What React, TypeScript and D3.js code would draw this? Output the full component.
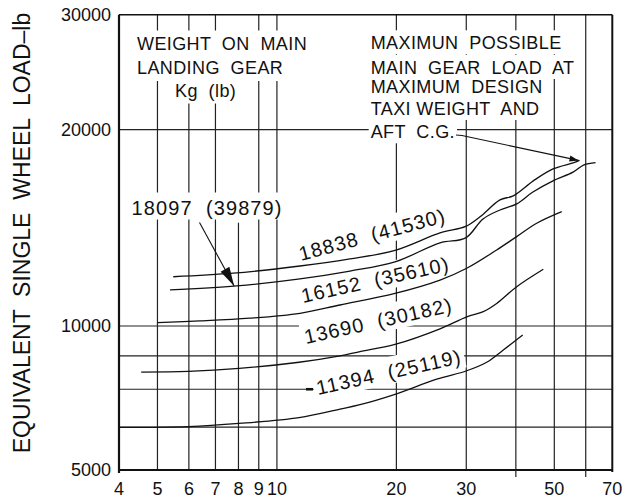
import React, { useEffect, useRef } from 'react';
import * as d3 from 'd3';

// ---------- axis data ----------
const xTickValues = [4, 5, 6, 7, 8, 9, 10, 20, 30, 50, 70];
const xTickLabels = ['4', '5', '6', '7', '8', '9', '10', '20', '30', '50', '70'];
const xGridValues = [5, 6, 7, 8, 9, 10, 20, 30, 40, 50, 60];
const xUnlabeledTicks = [40, 60];
const yTickValues = [5000, 10000, 20000, 30000];
const yTickLabels = ['5000', '10000', '20000', '30000'];
const yGridValues = [7000, 8000, 9000, 10000, 20000];
const yAxisTitle = 'EQUIVALENT  SINGLE  WHEEL  LOAD–lb';

// ---------- notes ----------
const noteWeight = ['WEIGHT  ON  MAIN', 'LANDING  GEAR', 'Kg  (lb)'];
const noteMax = ['MAXIMUN  POSSIBLE', 'MAIN  GEAR  LOAD  AT', 'MAXIMUM  DESIGN', 'TAXI WEIGHT  AND', 'AFT  C.G.'];

// ---------- series ----------
const seriesNames = ['18838  (41530)', '18097  (39879)', '16152  (35610)', '13690  (30182)', '11394  (25119)'];

const s18838x = [5.48, 7.76, 11.43, 15.28, 19.84, 25.76, 29.9, 32.49, 36.48, 39.41, 44.26, 49.62, 55.74, 57.88];
const s18838y = [11900, 12050, 12360, 12670, 13060, 13890, 14210, 14700, 15610, 15830, 16690, 17410, 17780, 17940];

const s18097x = [5.38, 7.92, 11.43, 15.28, 19.84, 25.76, 29.9, 33.06, 36.48, 40.2, 44.06, 49.62, 55.74, 59.41, 63.52];
const s18097y = [11360, 11520, 11810, 12140, 12540, 13410, 13650, 14590, 15060, 15390, 16030, 16690, 17210, 17660, 17800];

const s16152x = [5.0, 6.4, 8.55, 11.43, 14.42, 19.84, 25.76, 30.08, 35.79, 40.2, 45.14, 52.19];
const s16152y = [10120, 10180, 10280, 10460, 10770, 11220, 11760, 12260, 13080, 13710, 14370, 14970];

const s13690x = [4.55, 5.98, 8.03, 11.37, 14.42, 16.1, 19.84, 25.76, 30.08, 33.12, 35.79, 40.2, 46.91];
const s13690y = [8500, 8520, 8610, 8800, 9000, 9130, 9370, 9900, 10330, 10520, 10830, 11490, 12220];

const s11394x = [4.0, 5.98, 8.03, 11.37, 14.42, 16.1, 19.84, 25.27, 30.08, 33.77, 37.19, 41.62];
const s11394y = [6980, 7010, 7090, 7240, 7460, 7570, 7860, 8290, 8540, 8800, 9190, 9690];

const seriesX = [s18838x, s18097x, s16152x, s13690x, s11394x];
const seriesY = [s18838y, s18097y, s16152y, s13690y, s11394y];

// arrow from the 18097 label points at this value on its curve
const arrowTarget18097 = { x: 7.8, y: 11520 };

const FONT = '"Liberation Sans", Arial, Helvetica, sans-serif';
const INK = '#111';

export default function App() {
  const ref = useRef<SVGSVGElement | null>(null);

  useEffect(() => {
    const svg = d3.select(ref.current);
    svg.selectAll('*').remove();

    const left = 119, right = 612.3, top = 14.7, bottom = 470;
    const pxPerDecade = 652.5;
    const yBreak = 7000;
    const yBreakPx = top + pxPerDecade * Math.log10(30000 / yBreak);

    const x = d3.scaleLog().domain([4, 70]).range([left, right]);
    const y = d3.scaleLog().domain([5000, yBreak, 30000]).range([bottom, yBreakPx, top]);

    const gGrid = svg.append('g');
    const gMask = svg.append('g');
    const gCurves = svg.append('g');
    const gText = svg.append('g');
    const gAnnot = svg.append('g');

    // ---------- gridlines ----------
    const gridTopLimit: Record<number, number> = { 8: 14400 };
    gGrid.selectAll('line.v').data(xGridValues).join('line')
      .attr('x1', d => x(d)).attr('x2', d => x(d))
      .attr('y1', d => (gridTopLimit[d] ? y(gridTopLimit[d]) : top))
      .attr('y2', bottom)
      .attr('stroke', '#222').attr('stroke-width', 1.2);
    gGrid.selectAll('line.h').data(yGridValues).join('line')
      .attr('x1', left).attr('x2', right)
      .attr('y1', d => y(d)).attr('y2', d => y(d))
      .attr('stroke', '#222').attr('stroke-width', 1.2);

    // frame
    gAnnot.append('line').attr('x1', left).attr('x2', right).attr('y1', top).attr('y2', top)
      .attr('stroke', INK).attr('stroke-width', 1.5);
    gAnnot.append('line').attr('x1', left).attr('x2', left).attr('y1', top).attr('y2', bottom + 3)
      .attr('stroke', INK).attr('stroke-width', 2.2);
    gAnnot.append('line').attr('x1', right).attr('x2', right).attr('y1', top).attr('y2', bottom + 2)
      .attr('stroke', INK).attr('stroke-width', 2);
    gAnnot.append('line').attr('x1', left).attr('x2', right).attr('y1', bottom).attr('y2', bottom)
      .attr('stroke', INK).attr('stroke-width', 2.2);
    gAnnot.selectAll('line.mt').data(xUnlabeledTicks).join('line')
      .attr('x1', d => x(d)).attr('x2', d => x(d)).attr('y1', bottom).attr('y2', bottom + 7)
      .attr('stroke', '#222').attr('stroke-width', 1.2);

    // ---------- text helper ----------
    type TOpts = { size: number; rotate?: number; anchor?: string; ls?: number; mask?: boolean; padX?: number; padT?: number; padB?: number };
    const addText = (str: string, px: number, py: number, o: TOpts) => {
      const tr = `translate(${px},${py})` + (o.rotate ? ` rotate(${o.rotate})` : '');
      const t = gText.append('text')
        .attr('transform', tr)
        .attr('font-family', FONT)
        .attr('font-size', o.size)
        .attr('letter-spacing', o.ls ?? 0)
        .attr('text-anchor', o.anchor ?? 'start')
        .attr('xml:space', 'preserve')
        .style('white-space', 'pre')
        .attr('fill', INK)
        .text(str);
      const node = t.node() as SVGTextElement;
      const b = node.getBBox();
      if (o.mask) {
        const padX = o.padX ?? 3, padT = o.padT ?? 2, padB = o.padB ?? 2;
        gMask.append('rect').attr('transform', tr)
          .attr('x', b.x - padX).attr('y', b.y - padT)
          .attr('width', b.width + 2 * padX).attr('height', b.height + padT + padB)
          .attr('fill', 'white');
      }
      return { t, b };
    };

    // ---------- curves ----------
    const line = d3.line<[number, number]>()
      .x(d => x(d[0])).y(d => y(d[1]))
      .curve(d3.curveCatmullRom.alpha(0.5));
    seriesX.forEach((xs, i) => {
      const pts = xs.map((v, j) => [v, seriesY[i][j]] as [number, number]);
      gCurves.append('path').attr('d', line(pts) as string)
        .attr('fill', 'none').attr('stroke', INK).attr('stroke-width', 1.3);
    });

    // ---------- tick labels ----------
    xTickValues.forEach((v, i) => {
      addText(xTickLabels[i], x(v), 495, { size: 18, anchor: 'middle' });
    });
    yTickValues.forEach((v, i) => {
      const { t } = addText(yTickLabels[i], 111, y(v), { size: 18, anchor: 'end' });
      t.attr('dy', '0.35em');
    });

    // axis title
    addText(yAxisTitle, 30, 233, { size: 23, rotate: -90, anchor: 'middle' });

    // ---------- notes ----------
    const noteSize = 18, noteLs = 0.4;
    const wBase = [49.5, 74, 96.5];
    const wX = [137, 137, 175];
    noteWeight.forEach((s, i) => addText(s, wX[i], wBase[i], { size: noteSize, ls: noteLs, mask: true, padT: 3, padB: 3 }));
    const mBase = [49.3, 74, 93.3, 115, 138.3];
    let aftBox: DOMRect | null = null;
    noteMax.forEach((s, i) => {
      const r = addText(s, 370.7, mBase[i], { size: noteSize, ls: noteLs, mask: true, padT: 3, padB: 1, padX: 2 });
      if (i === noteMax.length - 1) aftBox = r.b;
    });

    // arrowhead helper
    const head = (x1: number, y1: number, x2: number, y2: number, len: number, half: number) => {
      const a = Math.atan2(y2 - y1, x2 - x1);
      const bx = x2 - len * Math.cos(a), by = y2 - len * Math.sin(a);
      const px = -Math.sin(a) * half, py = Math.cos(a) * half;
      return `M${x2},${y2}L${bx + px},${by + py}L${bx - px},${by - py}Z`;
    };

    // AFT C.G. arrow → end of the 18838 curve
    {
      const ax = s18838x[s18838x.length - 1], ay = s18838y[s18838y.length - 1];
      const tx = x(ax) - 1, ty = y(ay);
      const b = aftBox as unknown as DOMRect;
      const sx = 370.7 + b.x + b.width + 1, sy = 138.3 - 3.3;
      gAnnot.append('path')
        .attr('d', `M${sx},${sy}L${sx + 6},${sy + 0.5}L${tx},${ty}`)
        .attr('fill', 'none').attr('stroke', INK).attr('stroke-width', 1.1);
      gAnnot.append('path').attr('d', head(sx + 6, sy + 0.5, tx, ty, 9, 3)).attr('fill', INK);
    }

    // ---------- curve labels ----------
    const lblSize = 20, lblLs = 1.1;
    const lblPos = [
      { x: 301, y: 261, r: -15 },
      { x: 131.5, y: 214.5, r: 0 },
      { x: 303, y: 303, r: -12.5 },
      { x: 306, y: 344, r: -12.5 },
      { x: 318, y: 395, r: -12.5 },
    ];
    seriesNames.forEach((s, i) => {
      const p = lblPos[i];
      addText(s, p.x, p.y, { size: lblSize, ls: lblLs, rotate: p.r, mask: true, padX: 3, padT: 4, padB: 1 });
    });

    // dash leading into the 11394 label
    {
      const p = lblPos[4];
      gAnnot.append('line').attr('x1', p.x - 12).attr('x2', p.x - 5)
        .attr('y1', y(8000)).attr('y2', y(8000))
        .attr('stroke', INK).attr('stroke-width', 2.6);
    }

    // 18097 arrow
    {
      const p = lblPos[1];
      const sx = p.x + 68, sy = p.y + 8;
      const tx = x(arrowTarget18097.x), ty = y(arrowTarget18097.y);
      gAnnot.append('line').attr('x1', sx).attr('y1', sy).attr('x2', tx).attr('y2', ty)
        .attr('stroke', INK).attr('stroke-width', 1.1);
      gAnnot.append('path').attr('d', head(sx, sy, tx, ty, 19, 5)).attr('fill', INK);
    }
  }, []);

  return (
    <svg
      ref={ref}
      width={623}
      height={504}
      viewBox="0 0 623 504"
      style={{ position: 'absolute', left: 0, top: 0, display: 'block', background: '#fff' }}
    />
  );
}
